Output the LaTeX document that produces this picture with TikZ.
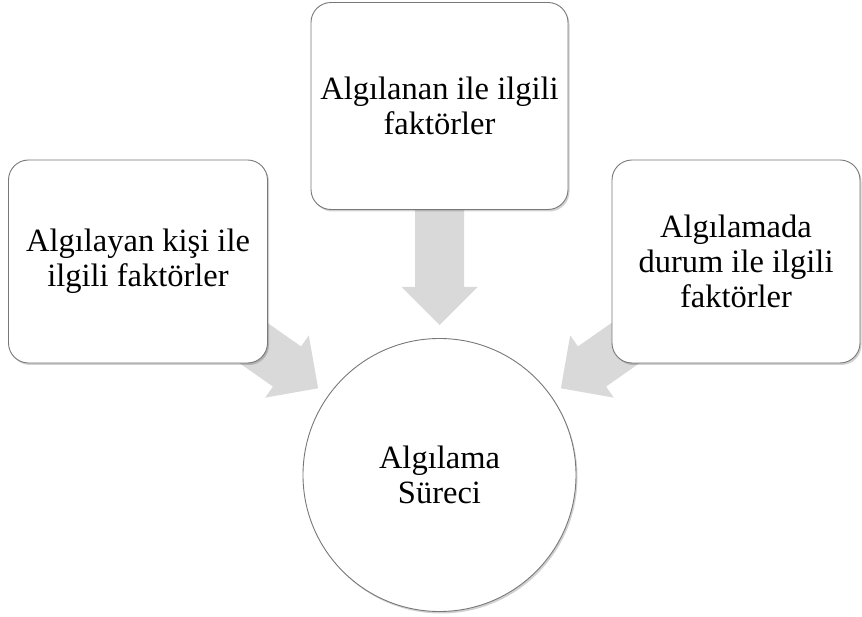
\documentclass[tikz,border=0pt]{standalone}
\usepackage{fontspec}
\setmainfont{Liberation Serif}
\usetikzlibrary{shadows}
\definecolor{arrowgray}{RGB}{217,217,217}
\definecolor{edgegray}{RGB}{120,120,120}
\tikzset{
  box/.style={draw=edgegray, line width=0.9pt, fill=white, rounded corners=20pt,
    align=center, inner sep=0pt,
    font=\fontsize{32.5}{35}\selectfont,
    drop shadow={shadow xshift=1.5pt, shadow yshift=-2pt, opacity=0.18, fill=black}},
  circ/.style={draw=edgegray, line width=0.9pt, fill=white, circle, align=center, inner sep=0pt,
    font=\fontsize{32.5}{35}\selectfont,
    drop shadow={shadow xshift=1.5pt, shadow yshift=-2pt, opacity=0.18, fill=black}},
  blockarrow/.style={fill=arrowgray, draw=none}
}
\begin{document}
\begin{tikzpicture}[x=1pt,y=1pt]
\useasboundingbox (0,0) rectangle (862,616);
% arrow anchors (head base midpoints)
\coordinate (ht) at (439.5,329);
\coordinate (hl) at (287,249.5);
\coordinate (hr) at (592,249.5);
% block arrows
\begin{scope}[shift={(ht)}, rotate=-90]
  \fill[blockarrow] (-100,24.5) -- (0,24.5) -- (0,38) -- (38,0) -- (0,-38) -- (0,-24.5) -- (-100,-24.5) -- cycle;
\end{scope}
\begin{scope}[shift={(hl)}, rotate=-35]
  \fill[blockarrow] (-110,24.5) -- (0,24.5) -- (0,38) -- (38,0) -- (0,-38) -- (0,-24.5) -- (-110,-24.5) -- cycle;
\end{scope}
\begin{scope}[shift={(hr)}, rotate=-145]
  \fill[blockarrow] (-110,24.5) -- (0,24.5) -- (0,38) -- (38,0) -- (0,-38) -- (0,-24.5) -- (-110,-24.5) -- cycle;
\end{scope}
% boxes
\node[box, minimum width=257pt, minimum height=207pt] (top) at (439.5,510) {Algılanan ile ilgili\\faktörler};
\node[box, minimum width=259pt, minimum height=203pt] (left) at (138,354.5) {Algılayan kişi ile\\ilgili faktörler};
\node[box, minimum width=248pt, minimum height=203pt] (right) at (736,354.5) {Algılamada\\durum ile ilgili\\faktörler};
\node[circ, minimum size=273pt] (proc) at (439.5,141) {Algılama\\Süreci};
\end{tikzpicture}
\end{document}
